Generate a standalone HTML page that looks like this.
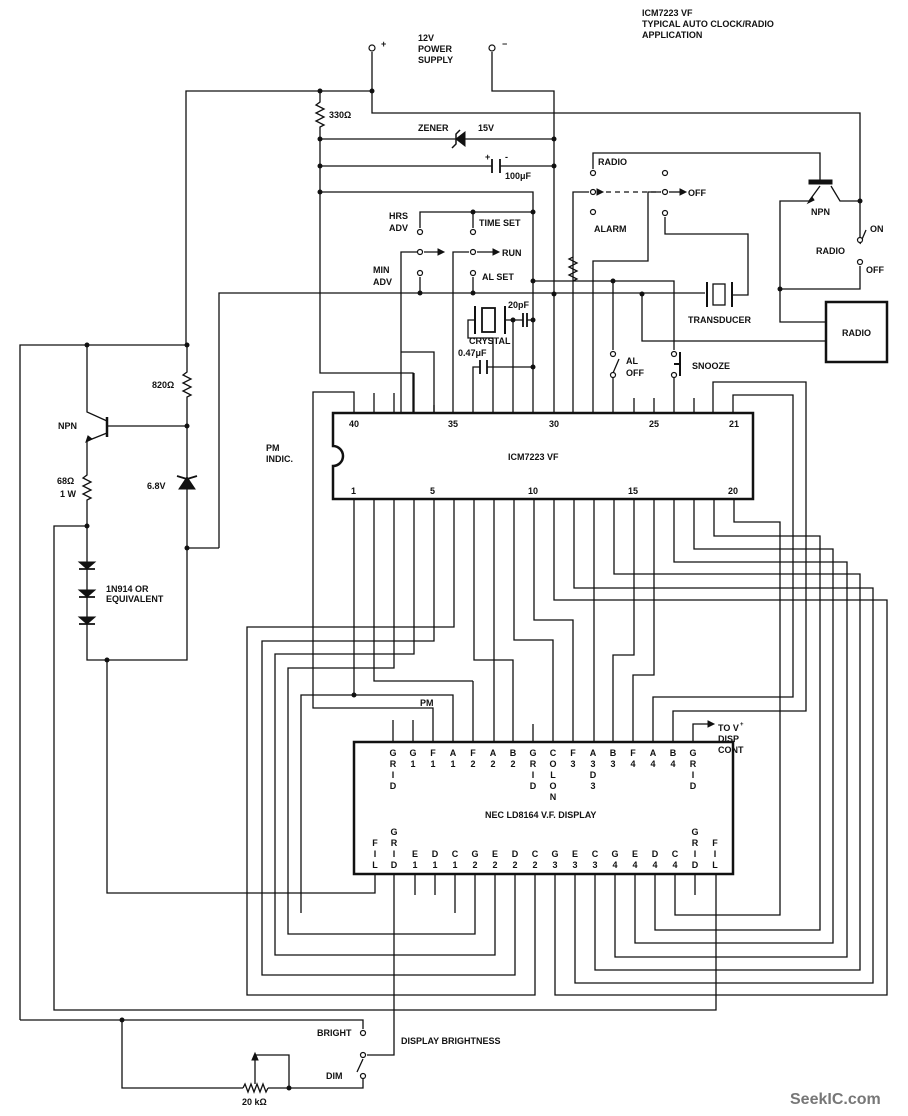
<!DOCTYPE html>
<html><head><meta charset="utf-8"><style>
html,body{margin:0;padding:0;background:#fff}
svg{display:block}
text{font-family:"Liberation Sans",sans-serif;font-weight:bold;font-size:9px;fill:#111}
.c{text-anchor:middle}
</style></head><body>
<svg width="908" height="1116" viewBox="0 0 908 1116" xmlns="http://www.w3.org/2000/svg">
<g fill="none" stroke="#111" stroke-width="1.3">
<path d="M372 52V113H860V240"/>
<path d="M186 345V91H372"/>
<path d="M492 52V91H554V413"/>
<path d="M320 91V102l-4 3 8 4-8 4 8 4-8 4 8 4-4 2V373H413V413"/>
<path d="M320 139H554M320 166H492M500 166H554M320 192H533V413"/>
<path d="M420 228V212H533M473 212V228"/>
<path d="M401 413V352H434V413M401 352V252H417M424 252H438"/>
<path d="M453 413V252H469M477 252H493"/>
<path d="M420 277V293M473 277V293"/>
<path d="M219 548V293H705M732 295H748V234H665V217"/>
<path d="M533 281H674V350M613 281V350"/>
<path d="M642 294V341H826"/>
<path d="M475 320H468V338H493V413M505 320H523M527 320H533M513 320V413"/>
<path d="M473 413V367H480M487 367H533"/>
<path d="M593 169V153H820V182"/>
<path d="M573 413V257l-4 2 8 4-8 4 8 4-8 4 8 4-4 2V192H589"/>
<path d="M593 413V261H648V192H661"/>
<path d="M597 192H661" stroke-dasharray="5 4"/>
<path d="M669 192H680"/>
<path d="M809 201L820 186M831 186L840 201H860M809 201H780V289H860V266M780 289V322H826"/>
<path d="M860 244L866 230"/>
<path d="M613 413V378M674 413V378M613 373L619 359"/>
<rect x="826" y="302" width="61" height="60" stroke-width="2.5"/>
<path d="M707 282V307M732 282V307" stroke-width="2"/>
<rect x="713" y="284" width="12" height="21"/>
<path d="M475 306V334M505 306V334" stroke-width="2"/>
<rect x="482" y="308" width="13" height="24" stroke-width="1.8"/>
<path d="M523 313V327M527 313V327M480 360V374M487 360V374M492 159V173M500 159V173" stroke-width="1.8"/>
<path d="M680 352V376M674 364H680" stroke-width="2"/>
<path d="M333 413H753V499H333V466a10 10 0 0 0 0-20Z" stroke-width="2.5"/>
<path d="M374 413V393M394 413V393M414 413V373M434 413V405M634 413V398M654 413V398M694 413V398"/>
<path d="M354 413V392H313V708H433V742"/>
<path d="M713 413V382H806V711H673V742M733 413V395H793V697H653V742"/>
<path d="M20 1020V345H187V372l-4 3 8 4-8 4 8 4-8 4 8 4-4 2V426H108"/>
<path d="M107 417V437" stroke-width="2.5"/>
<path d="M107 421L87 412V345M107 433L87 441V475l-4 3 8 4-8 4 8 4-8 4 8 4-4 2V660H187V426"/>
<path d="M87 526H54V1010H716V874"/>
<path d="M107 660V893H375V874"/>
<path d="M187 548H219"/>
<path d="M177 476L187 479 197 476M79 569H95M79 597H95M79 624H95" stroke-width="1.8"/>
<path d="M354 499V695M301 913V695H453V742"/>
<path d="M374 499V681H473M474 499V660H513V742"/>
<path d="M394 499V668H288V934H475V874"/>
<path d="M414 499V654H275V955H495V874"/>
<path d="M434 499V641H262V975H515V874"/>
<path d="M454 499V627H247V995H535V874"/>
<path d="M473 681V742"/>
<path d="M494 499V742M594 499V742"/>
<path d="M514 499V640H553V742M534 499V620H573V742"/>
<path d="M634 499V655H613V742M654 499V675H633V742"/>
<path d="M455 874V913"/>
<path d="M554 499V600H887V995H555V874"/>
<path d="M574 499V588H873V983H575V874"/>
<path d="M614 499V574H860V970H595V874"/>
<path d="M674 499V562H847V957H615V874"/>
<path d="M694 499V549H833V943H635V874"/>
<path d="M714 499V536H820V930H655V874"/>
<path d="M734 499V522H780V915H675V874"/>
<path d="M393 742V720M413 742V720M533 742V724M415 874V895M435 874V895M695 874V895"/>
<path d="M693 742V724H708"/>
<rect x="354" y="742" width="379" height="132" stroke-width="2.5"/>
<path d="M394 874V1055H367M20 1020H363V1029M122 1020V1088H243M268 1088H363V1079M255 1084V1055H289V1088H268M357 1072L363 1059"/>
<path d="M243 1088l2-4 3 8 3-8 3 8 3-8 3 8 3-8 3 8 2-4"/>
</g>
<g fill="#111" stroke="#111">
<path d="M465 132V146L456 139Z"/>
<path d="M460 130L456 134V144L452 148" fill="none" stroke-width="1.5"/>
<path d="M187 477L179 489H195Z"/>
<path d="M79 562H95L87 569Z M79 590H95L87 597Z M79 617H95L87 624Z"/>
<path d="M92 439L86 442 88 436Z M812 197L808 203 814 200Z"/>
<path d="M809 180H832V184H809Z"/>
<path d="M438 249L444 252 438 255Z M493 249L499 252 493 255Z M597 189L603 192 597 195Z M680 189L686 192 680 195Z M708 721L714 724 708 727Z M252 1060L255 1053 258 1060Z"/>
<g stroke="none">
<circle cx="320" cy="91" r="2.5"/><circle cx="372" cy="91" r="2.5"/><circle cx="320" cy="139" r="2.5"/><circle cx="554" cy="139" r="2.5"/>
<circle cx="320" cy="166" r="2.5"/><circle cx="554" cy="166" r="2.5"/><circle cx="320" cy="192" r="2.5"/><circle cx="860" cy="201" r="2.5"/>
<circle cx="533" cy="212" r="2.5"/><circle cx="473" cy="212" r="2.5"/><circle cx="420" cy="293" r="2.5"/><circle cx="473" cy="293" r="2.5"/>
<circle cx="554" cy="294" r="2.5"/><circle cx="642" cy="294" r="2.5"/><circle cx="533" cy="281" r="2.5"/><circle cx="613" cy="281" r="2.5"/>
<circle cx="513" cy="320" r="2.5"/><circle cx="533" cy="320" r="2.5"/><circle cx="533" cy="367" r="2.5"/><circle cx="780" cy="289" r="2.5"/>
<circle cx="87" cy="345" r="2.5"/><circle cx="187" cy="345" r="2.5"/><circle cx="187" cy="426" r="2.5"/><circle cx="87" cy="526" r="2.5"/>
<circle cx="187" cy="548" r="2.5"/><circle cx="107" cy="660" r="2.5"/><circle cx="354" cy="695" r="2.5"/><circle cx="122" cy="1020" r="2.5"/><circle cx="289" cy="1088" r="2.5"/>
</g>
</g>
<g fill="#fff" stroke="#111" stroke-width="1.2">
<circle cx="372" cy="48" r="3"/><circle cx="492" cy="48" r="3"/>
<circle cx="420" cy="232" r="2.5"/><circle cx="473" cy="232" r="2.5"/><circle cx="420" cy="252" r="2.5"/><circle cx="473" cy="252" r="2.5"/>
<circle cx="420" cy="273" r="2.5"/><circle cx="473" cy="273" r="2.5"/>
<circle cx="593" cy="173" r="2.5"/><circle cx="593" cy="192" r="2.5"/><circle cx="593" cy="212" r="2.5"/>
<circle cx="665" cy="173" r="2.5"/><circle cx="665" cy="192" r="2.5"/><circle cx="665" cy="213" r="2.5"/>
<circle cx="860" cy="240" r="2.5"/><circle cx="860" cy="262" r="2.5"/>
<circle cx="613" cy="354" r="2.5"/><circle cx="613" cy="375" r="2.5"/><circle cx="674" cy="354" r="2.5"/><circle cx="674" cy="375" r="2.5"/>
<circle cx="363" cy="1033" r="2.5"/><circle cx="363" cy="1055" r="2.5"/><circle cx="363" cy="1076" r="2.5"/>
</g>
<text x="642" y="16">ICM7223 VF</text><text x="642" y="27">TYPICAL AUTO CLOCK/RADIO</text><text x="642" y="38">APPLICATION</text>
<text x="418" y="41">12V</text><text x="418" y="52">POWER</text><text x="418" y="63">SUPPLY</text>
<text x="381" y="47">+</text><text x="502" y="47">−</text>
<text x="329" y="118">330Ω</text><text x="418" y="131">ZENER</text><text x="478" y="131">15V</text>
<text x="485" y="160">+</text><text x="505" y="160">-</text><text x="505" y="179">100μF</text>
<text x="389" y="219">HRS</text><text x="389" y="231">ADV</text><text x="479" y="226">TIME SET</text>
<text x="502" y="256">RUN</text><text x="373" y="273">MIN</text><text x="373" y="285">ADV</text><text x="482" y="280">AL SET</text>
<text x="508" y="308">20pF</text><text x="469" y="344">CRYSTAL</text><text x="458" y="356">0.47μF</text>
<text x="598" y="165">RADIO</text><text x="594" y="232">ALARM</text><text x="688" y="196">OFF</text>
<text x="811" y="215">NPN</text><text x="870" y="232">ON</text><text x="816" y="254">RADIO</text><text x="866" y="273">OFF</text>
<text x="688" y="323">TRANSDUCER</text><text x="842" y="336">RADIO</text>
<text x="626" y="364">AL</text><text x="626" y="376">OFF</text><text x="692" y="369">SNOOZE</text>
<text x="152" y="388">820Ω</text><text x="58" y="429">NPN</text><text x="57" y="484">68Ω</text><text x="60" y="497">1 W</text>
<text x="147" y="489">6.8V</text><text x="106" y="592">1N914 OR</text><text x="106" y="602">EQUIVALENT</text>
<text x="266" y="451">PM</text><text x="266" y="462">INDIC.</text>
<text x="349" y="427">40</text><text x="448" y="427">35</text><text x="549" y="427">30</text><text x="649" y="427">25</text><text x="729" y="427">21</text>
<text x="351" y="494">1</text><text x="430" y="494">5</text><text x="528" y="494">10</text><text x="628" y="494">15</text><text x="728" y="494">20</text>
<text x="508" y="460">ICM7223 VF</text>
<text x="420" y="706">PM</text>
<text x="718" y="731">TO V</text><text x="740" y="726" style="font-size:6px">+</text><text x="718" y="742">DISP</text><text x="718" y="753">CONT</text>
<text x="485" y="818">NEC LD8164 V.F. DISPLAY</text>
<g class="c">
<text x="393" y="756" class="c">G</text><text x="393" y="767" class="c">R</text><text x="393" y="778" class="c">I</text><text x="393" y="789" class="c">D</text>
<text x="413" y="756" class="c">G</text><text x="413" y="767" class="c">1</text>
<text x="433" y="756" class="c">F</text><text x="433" y="767" class="c">1</text>
<text x="453" y="756" class="c">A</text><text x="453" y="767" class="c">1</text>
<text x="473" y="756" class="c">F</text><text x="473" y="767" class="c">2</text>
<text x="493" y="756" class="c">A</text><text x="493" y="767" class="c">2</text>
<text x="513" y="756" class="c">B</text><text x="513" y="767" class="c">2</text>
<text x="533" y="756" class="c">G</text><text x="533" y="767" class="c">R</text><text x="533" y="778" class="c">I</text><text x="533" y="789" class="c">D</text>
<text x="553" y="756" class="c">C</text><text x="553" y="767" class="c">O</text><text x="553" y="778" class="c">L</text><text x="553" y="789" class="c">O</text><text x="553" y="800" class="c">N</text>
<text x="573" y="756" class="c">F</text><text x="573" y="767" class="c">3</text>
<text x="593" y="756" class="c">A</text><text x="593" y="767" class="c">3</text><text x="593" y="778" class="c">D</text><text x="593" y="789" class="c">3</text>
<text x="613" y="756" class="c">B</text><text x="613" y="767" class="c">3</text>
<text x="633" y="756" class="c">F</text><text x="633" y="767" class="c">4</text>
<text x="653" y="756" class="c">A</text><text x="653" y="767" class="c">4</text>
<text x="673" y="756" class="c">B</text><text x="673" y="767" class="c">4</text>
<text x="693" y="756" class="c">G</text><text x="693" y="767" class="c">R</text><text x="693" y="778" class="c">I</text><text x="693" y="789" class="c">D</text>
<text x="375" y="846" class="c">F</text><text x="375" y="857" class="c">I</text><text x="375" y="868" class="c">L</text>
<text x="394" y="835" class="c">G</text><text x="394" y="846" class="c">R</text><text x="394" y="857" class="c">I</text><text x="394" y="868" class="c">D</text>
<text x="415" y="857" class="c">E</text><text x="415" y="868" class="c">1</text>
<text x="435" y="857" class="c">D</text><text x="435" y="868" class="c">1</text>
<text x="455" y="857" class="c">C</text><text x="455" y="868" class="c">1</text>
<text x="475" y="857" class="c">G</text><text x="475" y="868" class="c">2</text>
<text x="495" y="857" class="c">E</text><text x="495" y="868" class="c">2</text>
<text x="515" y="857" class="c">D</text><text x="515" y="868" class="c">2</text>
<text x="535" y="857" class="c">C</text><text x="535" y="868" class="c">2</text>
<text x="555" y="857" class="c">G</text><text x="555" y="868" class="c">3</text>
<text x="575" y="857" class="c">E</text><text x="575" y="868" class="c">3</text>
<text x="595" y="857" class="c">C</text><text x="595" y="868" class="c">3</text>
<text x="615" y="857" class="c">G</text><text x="615" y="868" class="c">4</text>
<text x="635" y="857" class="c">E</text><text x="635" y="868" class="c">4</text>
<text x="655" y="857" class="c">D</text><text x="655" y="868" class="c">4</text>
<text x="675" y="857" class="c">C</text><text x="675" y="868" class="c">4</text>
<text x="695" y="835" class="c">G</text><text x="695" y="846" class="c">R</text><text x="695" y="857" class="c">I</text><text x="695" y="868" class="c">D</text>
<text x="715" y="846" class="c">F</text><text x="715" y="857" class="c">I</text><text x="715" y="868" class="c">L</text>
</g>
<text x="317" y="1036">BRIGHT</text><text x="401" y="1044">DISPLAY BRIGHTNESS</text><text x="326" y="1079">DIM</text>
<text x="242" y="1105">20 kΩ</text>
<text x="790" y="1104" style="font-size:16px;fill:#777">SeekIC.com</text>
</svg>
</body></html>
